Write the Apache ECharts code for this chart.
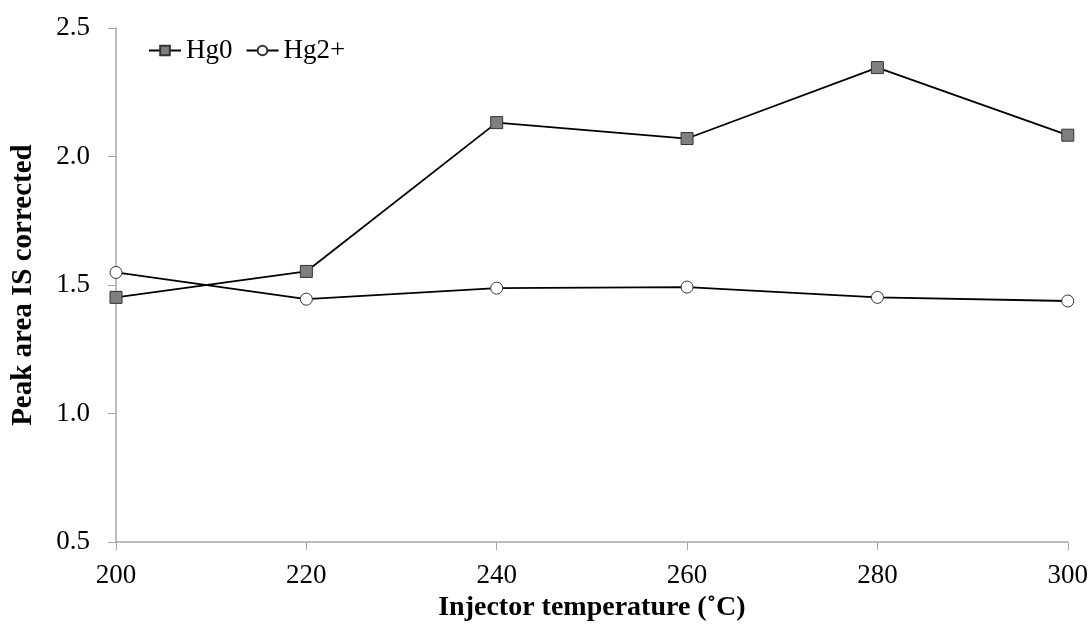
<!DOCTYPE html>
<html><head><meta charset="utf-8">
<script src="https://cdn.jsdelivr.net/npm/echarts@6/dist/echarts.min.js"></script>
<style>html,body{margin:0;padding:0;background:#fff}#c{width:1091px;height:627px}</style>
</head><body><div id="c"></div>
<script>
const temps = [200, 220, 240, 260, 280, 300];
const hg0 = [1.452, 1.553, 2.132, 2.070, 2.346, 2.083];
const hg2 = [1.549, 1.445, 1.488, 1.492, 1.452, 1.438];
const xTitle = 'Injector temperature (˚C)';
const yTitle = 'Peak area IS corrected';

const font = 'Liberation Serif';
const chart = echarts.init(document.getElementById('c'));
chart.setOption({
  animation: false,
  backgroundColor: '#fff',
  textStyle: {fontFamily: font},
  grid: {left: 116, right: 23, top: 28, bottom: 83},
  legend: {
    left: 143, top: 32, itemWidth: 32, itemHeight: 12, itemGap: 13,
    textStyle: {fontFamily: font, fontSize: 27, color: '#000'},
    data: ['Hg0', 'Hg2+']
  },
  xAxis: {
    type: 'value', min: 200, max: 300, interval: 20,
    name: xTitle, nameLocation: 'middle', nameGap: 46,
    nameTextStyle: {fontFamily: font, fontSize: 28, fontWeight: 'bold', color: '#000'},
    axisLine: {lineStyle: {color: '#a6a6a6', width: 1.5}},
    axisTick: {show: true, length: 8, lineStyle: {color: '#a6a6a6'}},
    axisLabel: {fontFamily: font, fontSize: 27, color: '#000', margin: 20},
    splitLine: {show: false}
  },
  yAxis: {
    type: 'value', min: 0.5, max: 2.5, interval: 0.5,
    name: yTitle, nameLocation: 'middle', nameGap: 78,
    nameTextStyle: {fontFamily: font, fontSize: 29, fontWeight: 'bold', color: '#000'},
    axisLine: {show: true, lineStyle: {color: '#a6a6a6', width: 1.5}},
    axisTick: {show: true, length: 8, lineStyle: {color: '#a6a6a6'}},
    axisLabel: {fontFamily: font, fontSize: 27, color: '#000', margin: 26,
      formatter: v => v.toFixed(1)},
    splitLine: {show: false}
  },
  series: [
    {name: 'Hg0', type: 'line', data: temps.map((t, i) => [t, hg0[i]]),
     symbol: 'rect', symbolSize: 12,
     lineStyle: {color: '#000', width: 1.8},
     itemStyle: {color: '#7f7f7f', borderColor: '#333', borderWidth: 1}},
    {name: 'Hg2+', type: 'line', data: temps.map((t, i) => [t, hg2[i]]),
     symbol: 'circle', symbolSize: 12,
     lineStyle: {color: '#000', width: 1.8},
     itemStyle: {color: '#fff', borderColor: '#333', borderWidth: 1}}
  ]
});
</script></body></html>
